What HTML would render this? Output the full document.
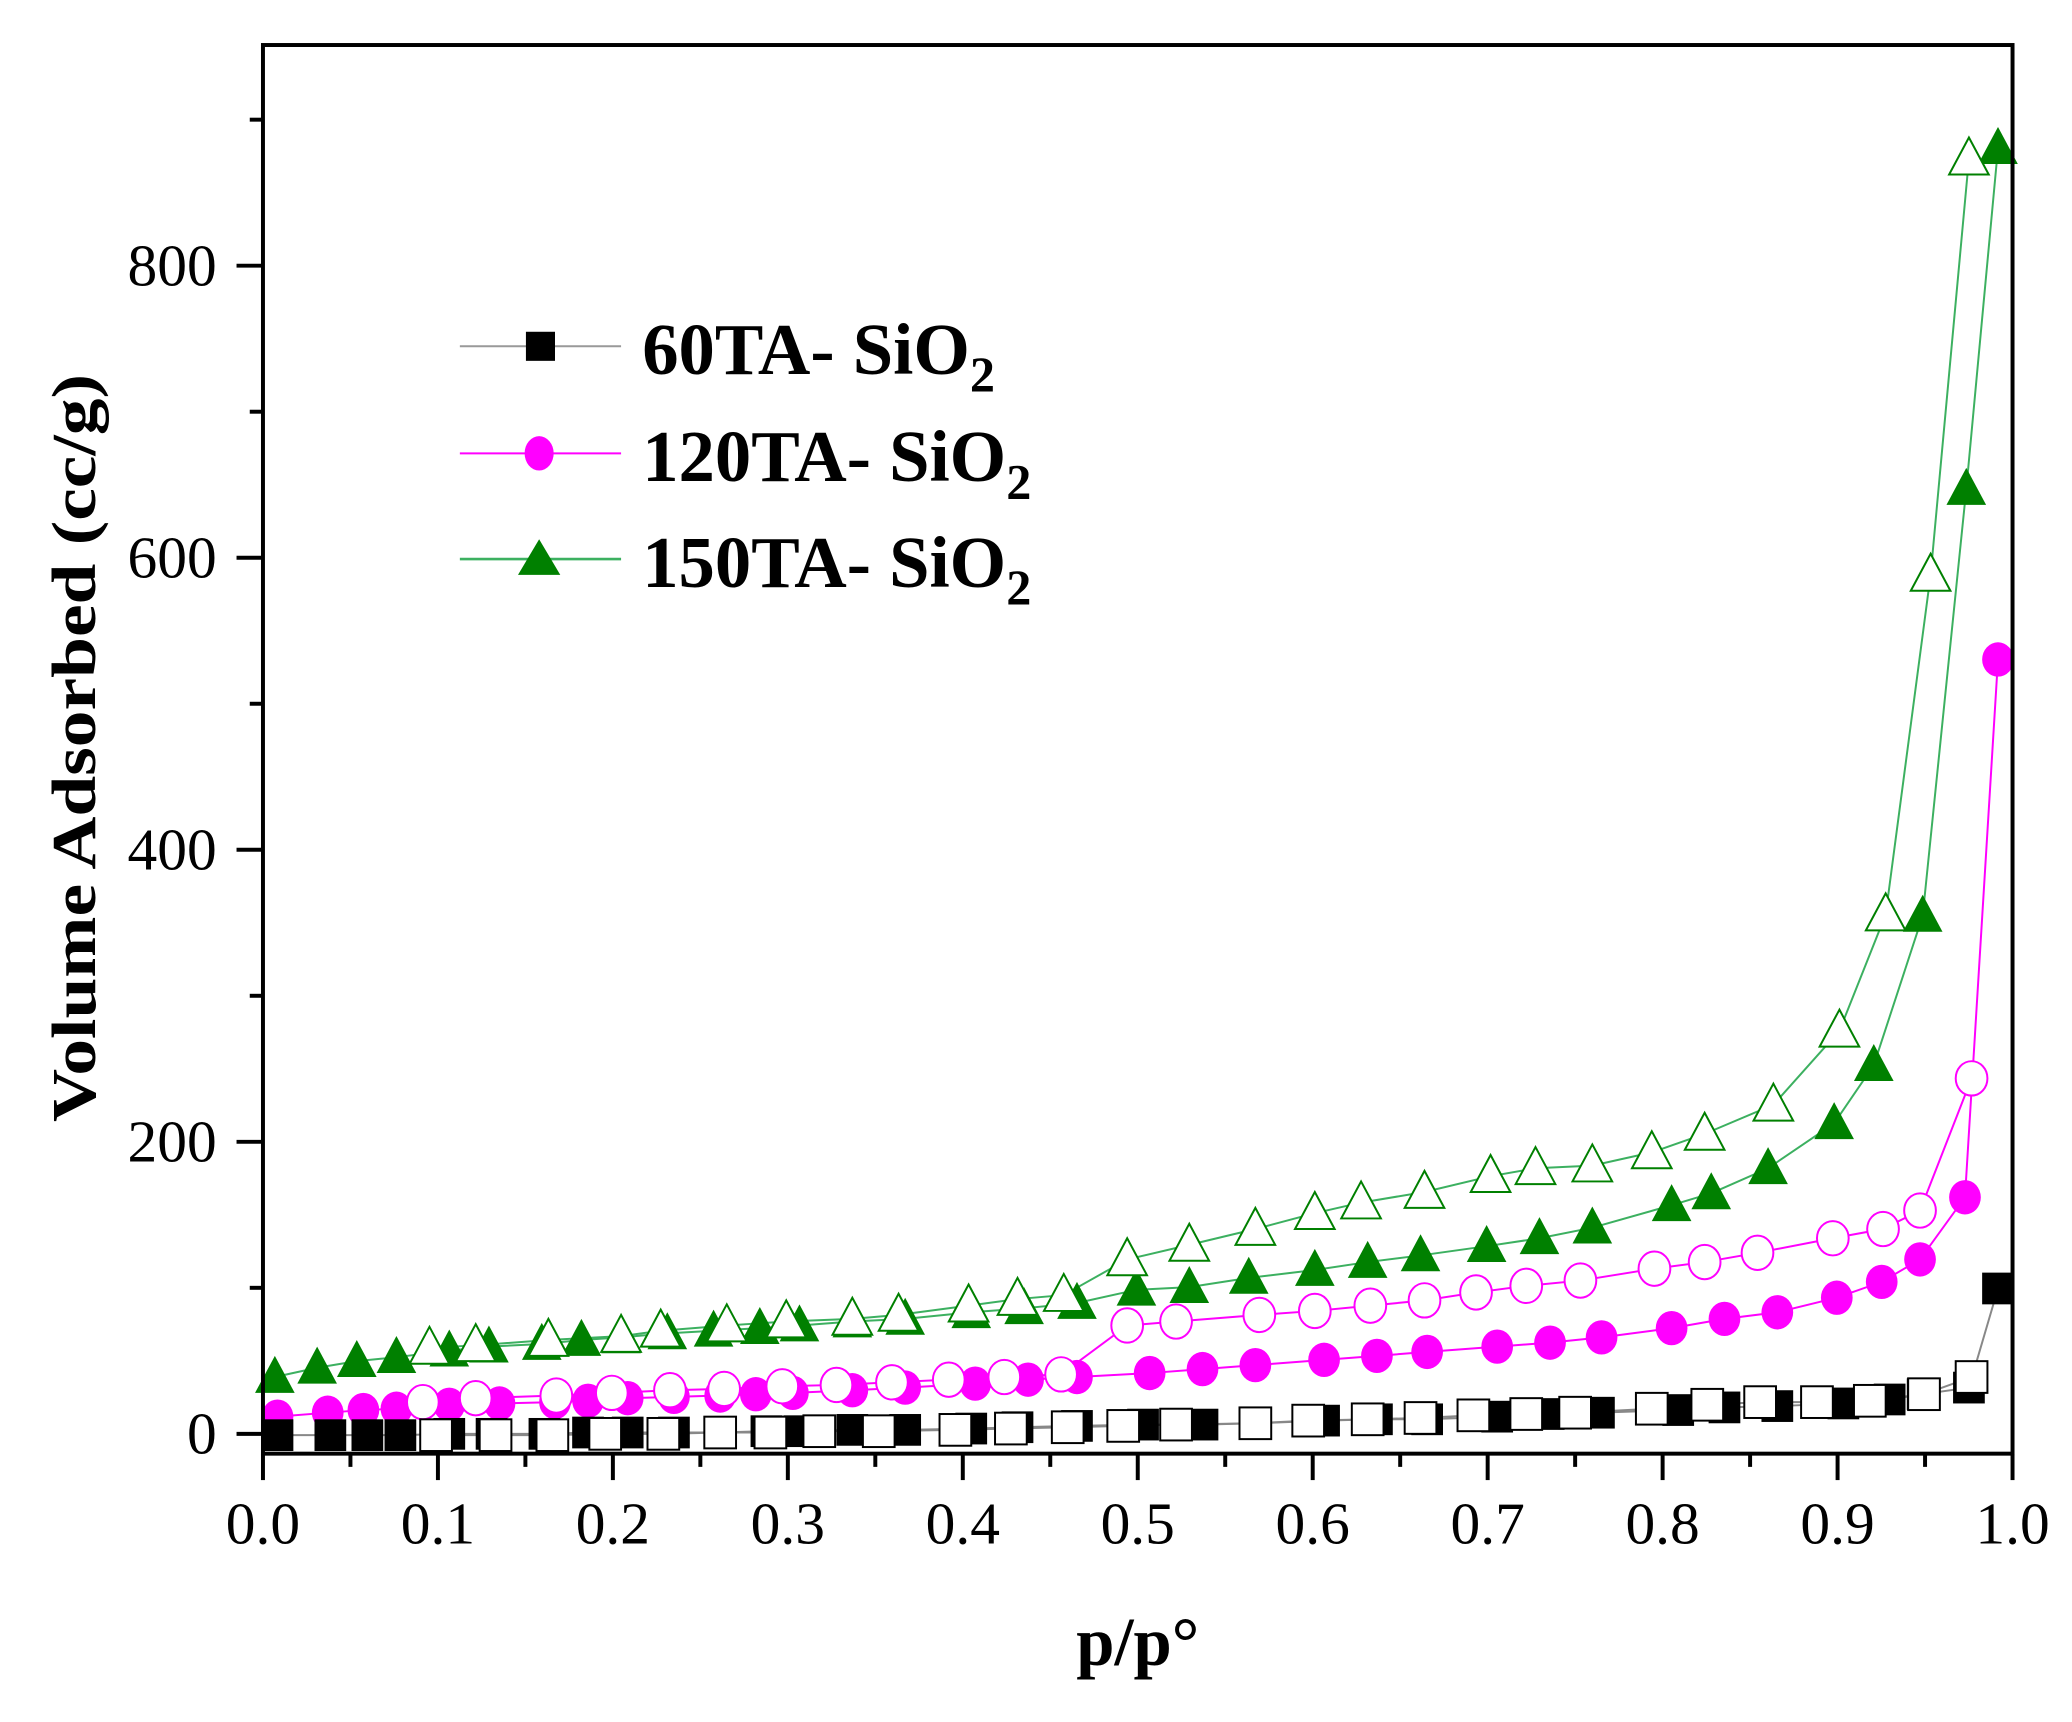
<!DOCTYPE html>
<html><head><meta charset="utf-8"><style>
html,body{margin:0;padding:0;background:#fff;}
svg{display:block;}
</style></head><body>
<svg id="s" width="2072" height="1722" viewBox="0 0 1568 1303" xmlns="http://www.w3.org/2000/svg" font-family="Liberation Serif, serif">
<rect x="0" y="0" width="1568" height="1303" fill="#fff"/>
<g id="data"></g>
<rect x="199" y="34" width="1324" height="1066" fill="none" stroke="#000" stroke-width="3"/>
<g id="axes" stroke="#000" stroke-width="3"></g>
<g id="labels" font-size="45" fill="#000"></g>
<text transform="translate(72,566) rotate(-90)" text-anchor="middle" font-size="47" font-weight="bold" textLength="566" lengthAdjust="spacingAndGlyphs">Volume Adsorbed (cc/g)</text>
<text x="861" y="1260" text-anchor="middle" font-size="52" font-weight="bold">p/p°</text>
<g font-weight="bold" font-size="55">
<line x1="348" y1="262" x2="470" y2="262" stroke="#999" stroke-width="1.5"/>
<rect x="398" y="251" width="22" height="22" fill="#000"/>
<text x="486" y="283">60TA- SiO<tspan font-size="38" dy="13">2</tspan></text>
<line x1="348" y1="343" x2="470" y2="343" stroke="#ff00ff" stroke-width="1.5"/>
<ellipse cx="408" cy="343" rx="11" ry="13" fill="#ff00ff"/>
<text x="486" y="364">120TA- SiO<tspan font-size="38" dy="13">2</tspan></text>
<line x1="348" y1="423" x2="470" y2="423" stroke="#3cb060" stroke-width="2"/>
<polygon points="408,408 392,435 424,435" fill="#008000"/>
<text x="486" y="444">150TA- SiO<tspan font-size="38" dy="13">2</tspan></text>
</g>
</svg>
<script>
const NS="http://www.w3.org/2000/svg";
function el(p,t,a){const e=document.createElementNS(NS,t);for(const k in a)e.setAttribute(k,a[k]);p.appendChild(e);return e;}
const ax=document.getElementById('axes'),lb=document.getElementById('labels'),dg=document.getElementById('data');
for(let i=0;i<=20;i++){const x=199+i*66.2;el(ax,'line',{x1:x,y1:1100,x2:x,y2:i%2?1110:1120});}
for(let i=0;i<=10;i++){const x=199+i*132.4;const t=el(lb,'text',{x:x,y:1168,'text-anchor':'middle'});t.textContent=(i/10).toFixed(1);}
const y0=1085,pu=221/200;
for(let v=0;v<=900;v+=100){const y=y0-v*pu;el(ax,'line',{x1:199,y1:y,x2:v%200?189:179,y2:y});}
for(let v=0;v<=800;v+=200){const y=y0-v*pu;const t=el(lb,'text',{x:164,y:y+15,'text-anchor':'end'});t.textContent=v;}
function P(s){return s.trim().split(/\)\s*,?\s*\(/).map(q=>q.replace(/[()]/g,'').split(',').map(Number));}
const gA=P("(208,1042),(240,1035),(270,1030),(300,1027),(340,1022),(370,1019),(410,1017),(440,1014),(470,1012),(505,1009),(540,1007),(575,1005),(605,1003),(645,1000),(685,998),(735,993),(775,990),(815,986),(860,976),(900,974),(945,967),(995,961),(1035,955),(1075,950),(1125,943),(1165,937),(1205,929),(1265,912),(1295,903),(1338,884),(1388,850),(1418,806),(1455,693),(1488,370),(1512,112)");
const gD=P("(1490,120),(1461,435),(1427,692),(1392,780),(1342,836),(1290,858),(1250,872),(1205,882),(1162,884),(1128,890),(1078,902),(1030,910),(995,918),(950,930),(900,942),(853,953),(805,980),(770,983),(733,988),(680,995),(645,998),(595,1000),(550,1003),(500,1007),(470,1011),(415,1014),(360,1018),(325,1020)");
const mA=P("(210,1072),(248,1069),(275,1067),(300,1066),(340,1063),(378,1062),(420,1061),(445,1060),(475,1058),(510,1057),(545,1056),(572,1055),(600,1054),(645,1052),(685,1050),(738,1047),(778,1044),(815,1042),(870,1039),(910,1036),(950,1033),(1002,1029),(1042,1026),(1080,1023),(1133,1019),(1173,1016),(1212,1012),(1265,1005),(1305,998),(1345,993),(1390,982),(1424,970),(1453,953),(1487,906),(1512,499)");
const mD=P("(1492,816),(1453,916),(1425,930),(1387,937),(1330,948),(1290,955),(1252,960),(1196,969),(1155,973),(1117,978),(1078,984),(1037,988),(995,992),(953,995),(890,1000),(853,1003),(803,1040),(760,1042),(718,1044),(675,1046),(633,1048),(592,1049),(548,1051),(507,1052),(463,1054),(421,1056),(360,1058),(320,1061)");
const bA=P("(210,1086),(250,1086),(278,1086),(303,1086),(340,1085),(372,1085),(412,1085),(445,1084),(475,1084),(510,1084),(545,1084),(580,1083),(605,1083),(645,1082),(685,1082),(735,1081),(770,1080),(815,1079),(865,1078),(910,1078),(950,1077),(1002,1075),(1042,1074),(1080,1074),(1133,1072),(1172,1070),(1210,1069),(1270,1067),(1305,1065),(1345,1064),(1395,1062),(1430,1059),(1455,1055),(1490,1050),(1512,975)");
const bD=P("(1492,1042),(1456,1055),(1415,1060),(1375,1061),(1332,1061),(1292,1063),(1250,1066),(1192,1069),(1155,1070),(1115,1071),(1075,1073),(1035,1074),(990,1075),(950,1077),(890,1078),(850,1079),(808,1080),(765,1081),(723,1082),(665,1083),(620,1083),(583,1084),(545,1084),(502,1085),(458,1085),(418,1086),(375,1086),(330,1086)");
function line(pts,c,w){el(dg,'polyline',{points:pts.map(p=>p.join(',')).join(' '),fill:'none',stroke:c,'stroke-width':w});}
function mk(pts,type,col,filled){pts.forEach(([x,y])=>{const f=filled?col:'#fff',s=col,sw=filled?0:1.5;
 if(type==='s')el(dg,'rect',{x:x-12,y:y-12,width:24,height:24,fill:f,stroke:s,'stroke-width':sw});
 else if(type==='c')el(dg,'ellipse',{cx:x,cy:y,rx:12,ry:13,fill:f,stroke:s,'stroke-width':sw});
 else el(dg,'polygon',{points:`${x},${y-16} ${x-15},${y+12} ${x+15},${y+12}`,fill:f,stroke:s,'stroke-width':sw});});}
line(gA,'#3cb060',1.5);line(gD,'#3cb060',1.5);
mk(gA,'t','#008000',true);mk(gD,'t','#008000',false);
line(mA,'#ff00ff',1.5);line(mD,'#ff00ff',1.5);
mk(mA,'c','#ff00ff',true);mk(mD,'c','#ff00ff',false);
line(bA,'#888',1.5);line(bD,'#888',1.5);
mk(bA,'s','#000',true);mk(bD,'s','#000',false);
</script>
</body></html>
